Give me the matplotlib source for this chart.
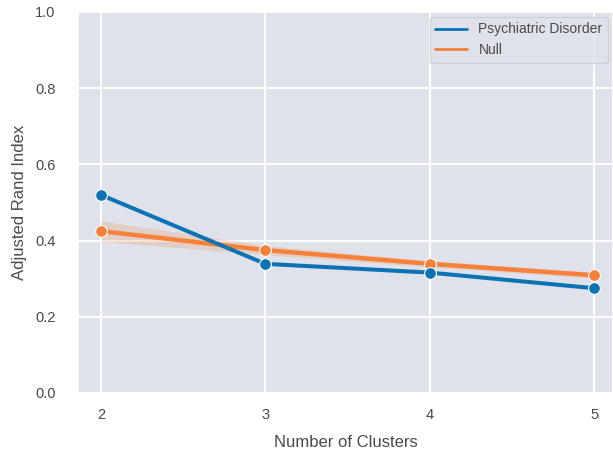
import numpy as np
import matplotlib
matplotlib.use("Agg")
import matplotlib.pyplot as plt
import seaborn as sns

# values
clusters = [2, 3, 4, 5]
psych_ari = [0.520, 0.339, 0.316, 0.275]
null_ari = [0.425, 0.375, 0.339, 0.309]
null_lo = [0.398, 0.363, 0.331, 0.301]
null_hi = [0.452, 0.387, 0.347, 0.317]

sns.set_theme(style="darkgrid", rc={"axes.facecolor": "#dfe2ea",
                                    "grid.linewidth": 1.3})
plt.rcParams['font.family'] = ['Liberation Sans', 'DejaVu Sans']

fig = plt.figure(figsize=(6.13, 4.54), dpi=100)
ax = fig.add_axes([0.127, 0.1344, 0.873, 0.8392])

blue = "#0b72b4"
orange = "#f5813a"
txt = "#4a4a4a"

ax.plot(clusters, psych_ari, color=blue, lw=2.9, marker="o", ms=8.5,
        mec="white", mew=0.8, label="Psychiatric Disorder", zorder=4)
ax.fill_between(clusters, null_lo, null_hi, color=orange, alpha=0.2,
                lw=0, zorder=2)
ax.plot(clusters, null_ari, color=orange, lw=3.2, marker="o", ms=8.5,
        mec="white", mew=0.8, label="Null", zorder=3)

ax.set_xlim(1.86, 5.115)
ax.set_ylim(0, 1.0)
ax.set_xticks(clusters)
ax.set_yticks(np.arange(0, 1.01, 0.2))
ax.tick_params(axis="both", length=0, labelsize=10.5, colors=txt)
ax.tick_params(axis="x", pad=11)
ax.tick_params(axis="y", pad=16)
ax.set_xlabel("Number of Clusters", fontsize=12, color=txt, labelpad=9)
ax.set_ylabel("Adjusted Rand Index", fontsize=12, color=txt, labelpad=6)

leg = ax.legend(loc="upper right", fontsize=10, handlelength=2.3,
                borderaxespad=0.35)
for t in leg.get_texts():
    t.set_color(txt)
for line in leg.get_lines():
    line.set_marker("")
    line.set_linewidth(2)

fig.savefig("out.png", dpi=100)
